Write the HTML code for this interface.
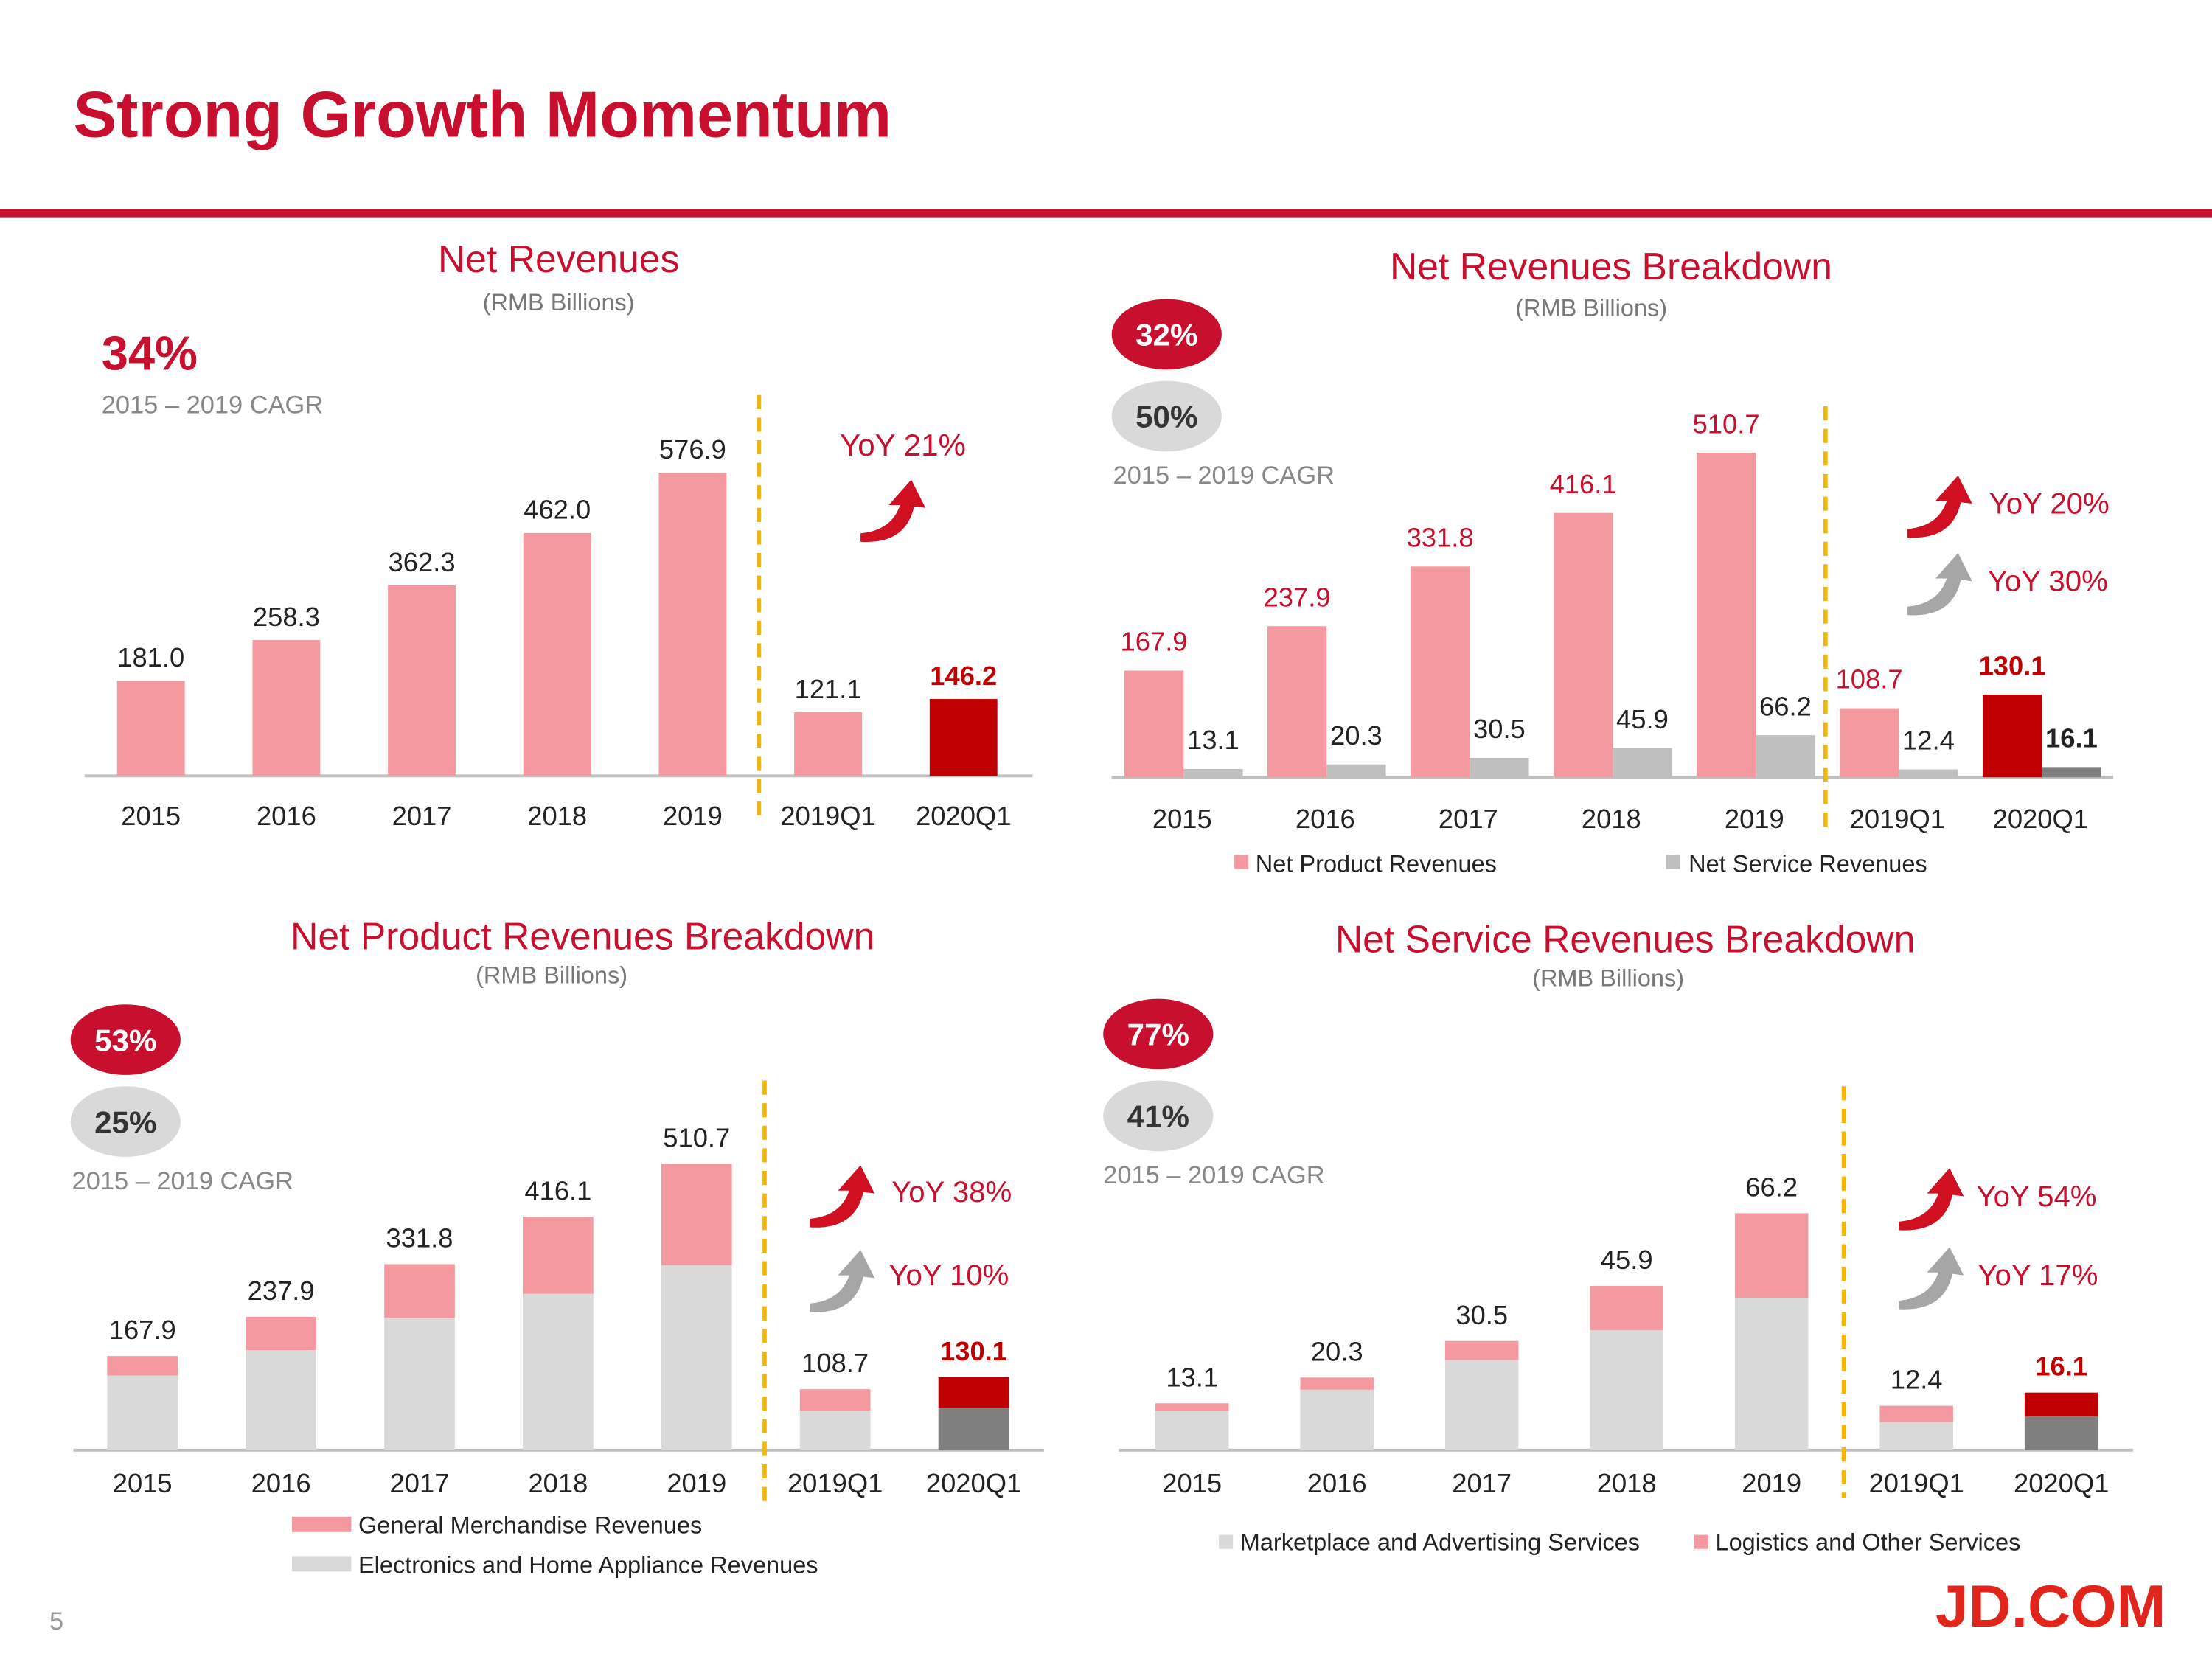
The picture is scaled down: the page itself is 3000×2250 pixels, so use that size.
<!DOCTYPE html>
<html><head><meta charset="utf-8"><style>
html,body{margin:0;padding:0;background:#fff}
svg{display:block}
text{font-family:"Liberation Sans",sans-serif}
</style></head><body>
<svg id="s" width="3000" height="2250" viewBox="0 0 1568 1176" xmlns="http://www.w3.org/2000/svg">
<rect width="1568" height="1176" fill="#fff"/>
<text x="52" y="97" font-size="46" font-weight="bold" fill="#c8102e">Strong Growth Momentum</text>
<rect x="0" y="148" width="1568" height="6" fill="#c8102e"/>
<text x="35" y="1155" font-size="18" fill="#999">5</text>
<text x="1372" y="1153" font-size="42" font-weight="bold" fill="#e1251b">JD.COM</text>
<g id="g"></g>
</svg>
<script>
// Chart 1: Net Revenues
const c1Cats=["2015","2016","2017","2018","2019","2019Q1","2020Q1"];
const c1Vals=[181.0,258.3,362.3,462.0,576.9,121.1,146.2];
const c1Labels=["181.0","258.3","362.3","462.0","576.9","121.1","146.2"];
// Chart 2: Breakdown
const c2Cats=["2015","2016","2017","2018","2019","2019Q1","2020Q1"];
const c2Product=[167.9,237.9,331.8,416.1,510.7,108.7,130.1];
const c2Service=[13.1,20.3,30.5,45.9,66.2,12.4,16.1];
// Chart 3: Product breakdown
const c3Cats=["2015","2016","2017","2018","2019","2019Q1","2020Q1"];
const c3Electronics=[133.3,178.6,236.5,279.0,329.6,70.4,75.5];
const c3Total=[167.9,237.9,331.8,416.1,510.7,108.7,130.1];
// Chart 4: Service breakdown
const c4Cats=["2015","2016","2017","2018","2019","2019Q1","2020Q1"];
const c4Marketplace=[11.0,16.9,25.2,33.5,42.6,7.9,9.5];
const c4Total=[13.1,20.3,30.5,45.9,66.2,12.4,16.1];

const NS="http://www.w3.org/2000/svg";
const G=document.getElementById('g');
function mk(tag,a,txt){const e=document.createElementNS(NS,tag);for(const k in a)e.setAttribute(k,a[k]);if(txt!==undefined)e.textContent=txt;G.appendChild(e);return e;}
function T(x,y,s,size,fill,name,anchor,bold){const e=mk('text',{x:x,y:y,'font-size':size,fill:fill,'text-anchor':anchor||'middle','font-weight':bold?'bold':'normal'},s);

return e;}
function R(x,y,w,h,fill,name){const e=mk('rect',{x:x,y:y,width:w,height:h,fill:fill});

return e;}
function pill(cx,cy,txt,bg,fg,name){const e=mk('ellipse',{cx:cx,cy:cy,rx:39,ry:25,fill:bg});


T(cx,cy+8,txt,22,fg,name+'-text','middle',true);}
function dash(x,y1,y2){const e=mk('line',{x1:x,y1:y1,x2:x,y2:y2,stroke:'#f2b705','stroke-width':3,'stroke-dasharray':'10 6'});

}
function axis(x1,x2,y){const e=mk('line',{x1:x1,x2:x2,y1:y,y2:y,stroke:'#bfbfbf','stroke-width':2});

}
function arrow(x,y,col,name){const e=mk('path',{d:`M${x} ${y+28} Q${x+22} ${y+26} ${x+28} ${y+8} L${x+20} ${y+8} L${x+36} ${y-10} L${x+46} ${y+10} L${x+38} ${y+9} Q${x+32} ${y+36} ${x} ${y+34} Z`,fill:col});

}

// ---- Chart 1
(function(){const base=550,k=215/576.9,x0=107,dx=96,w=48;
T(396,193,'Net Revenues',27,'#c8102e','c1-title');T(396,220,'(RMB Billions)',17,'#777','c1-subtitle');
T(72,262,'34%',34,'#c8102e','c1-cagr-value','start',true);T(72,293,'2015 – 2019 CAGR',18,'#888','c1-cagr-label','start');
axis(60,732,base);
c1Vals.forEach((v,i)=>{const x=x0+i*dx,h=v*k;const last=i===6;
R(x-w/2,base-h,w,h,last?'#c00000':'#f4999f','c1-bar-'+c1Cats[i]);
T(x,base-h-10,c1Labels[i],19,last?'#c00000':'#222','c1-value-'+c1Cats[i],'middle',last);
T(x,585,c1Cats[i],19,'#222','c1-xtick-'+c1Cats[i]);});
dash(538,280,580);T(640,323,'YoY 21%',22,'#c8102e','c1-yoy');arrow(610,350,'#d01020','c1-yoy-arrow');})();

// ---- Chart 2
(function(){const base=551,k=230/510.7,x0=818,dx=101.4,w=42;
T(1142,198,'Net Revenues Breakdown',27,'#c8102e','c2-title');T(1128,224,'(RMB Billions)',17,'#777','c2-subtitle');
pill(827,237,'32%','#c8102e','#fff','c2-cagr-product');pill(827,295,'50%','#d9d9d9','#333','c2-cagr-service');
T(789,343,'2015 – 2019 CAGR',18,'#888','c2-cagr-label','start');
axis(788,1498,base);
c2Cats.forEach((c,i)=>{const x=x0+i*dx,hp=c2Product[i]*k,hs=c2Service[i]*k;const last=i===6;
R(x-w/2,base-hp,w,hp,last?'#c00000':'#f4999f','c2-product-bar-'+c);
R(x-w/2+w,base-hs,w,hs,last?'#7f7f7f':'#bfbfbf','c2-service-bar-'+c);
T(x,base-hp-14,c2Product[i].toFixed(1),19,last?'#c00000':'#c8102e','c2-product-value-'+c,'middle',last);
T(x+w,base-hs-14,c2Service[i].toFixed(1),19,'#222','c2-service-value-'+c,'middle',last);
T(x+20,587,c,19,'#222','c2-xtick-'+c);});
dash(1294,288,590);
arrow(1352,347,'#d01020','c2-yoy-product-arrow');T(1410,364,'YoY 20%',21,'#c8102e','c2-yoy-product','start');
arrow(1352,402,'#a6a6a6','c2-yoy-service-arrow');T(1409,419,'YoY 30%',21,'#c8102e','c2-yoy-service','start');
R(875,606,10,10,'#f4999f','c2-legend-product-swatch');T(890,618,'Net Product Revenues',17,'#222','c2-legend-product','start');
R(1181,606,10,10,'#bfbfbf','c2-legend-service-swatch');T(1197,618,'Net Service Revenues',17,'#222','c2-legend-service','start');})();

// ---- Chart 3
(function(){const base=1028,k=203/510.7,x0=101,dx=98.2,w=50;
T(413,673,'Net Product Revenues Breakdown',27,'#c8102e','c3-title');T(391,697,'(RMB Billions)',17,'#777','c3-subtitle');
pill(89,737,'53%','#c8102e','#fff','c3-cagr-gm');pill(89,795,'25%','#d9d9d9','#333','c3-cagr-electronics');
T(51,843,'2015 – 2019 CAGR',18,'#888','c3-cagr-label','start');
axis(52,740,base);
c3Cats.forEach((c,i)=>{const x=x0+i*dx,he=c3Electronics[i]*k,ht=c3Total[i]*k;const last=i===6;
R(x-w/2,base-he,w,he,last?'#7f7f7f':'#d9d9d9','c3-electronics-bar-'+c);
R(x-w/2,base-ht,w,ht-he,last?'#c00000':'#f4999f','c3-gm-bar-'+c);
T(x,base-ht-12,c3Total[i].toFixed(1),19,last?'#c00000':'#222','c3-value-'+c,'middle',last);
T(x,1058,c,19,'#222','c3-xtick-'+c);});
dash(542,766,1065);
arrow(574,836,'#d01020','c3-yoy-gm-arrow');T(632,852,'YoY 38%',21,'#c8102e','c3-yoy-gm','start');
arrow(574,896,'#a6a6a6','c3-yoy-electronics-arrow');T(630,911,'YoY 10%',21,'#c8102e','c3-yoy-electronics','start');
R(207,1075,42,11,'#f4999f','c3-legend-gm-swatch');T(254,1087,'General Merchandise Revenues',17,'#222','c3-legend-gm','start');
R(207,1103,42,11,'#d9d9d9','c3-legend-electronics-swatch');T(254,1115,'Electronics and Home Appliance Revenues',17,'#222','c3-legend-electronics','start');})();

// ---- Chart 4
(function(){const base=1028,k=168/66.2,x0=845,dx=102.7,w=52;
T(1152,675,'Net Service Revenues Breakdown',27,'#c8102e','c4-title');T(1140,699,'(RMB Billions)',17,'#777','c4-subtitle');
pill(821,733,'77%','#c8102e','#fff','c4-cagr-logistics');pill(821,791,'41%','#d9d9d9','#333','c4-cagr-marketplace');
T(782,839,'2015 – 2019 CAGR',18,'#888','c4-cagr-label','start');
axis(793,1512,base);
c4Cats.forEach((c,i)=>{const x=x0+i*dx,hm=c4Marketplace[i]*k,ht=c4Total[i]*k;const last=i===6;
R(x-w/2,base-hm,w,hm,last?'#7f7f7f':'#d9d9d9','c4-marketplace-bar-'+c);
R(x-w/2,base-ht,w,ht-hm,last?'#c00000':'#f4999f','c4-logistics-bar-'+c);
T(x,base-ht-12,c4Total[i].toFixed(1),19,last?'#c00000':'#222','c4-value-'+c,'middle',last);
T(x,1058,c,19,'#222','c4-xtick-'+c);});
dash(1307,770,1062);
arrow(1346,838,'#d01020','c4-yoy-logistics-arrow');T(1401,855,'YoY 54%',21,'#c8102e','c4-yoy-logistics','start');
arrow(1346,894,'#a6a6a6','c4-yoy-marketplace-arrow');T(1402,911,'YoY 17%',21,'#c8102e','c4-yoy-marketplace','start');
R(864,1088,10,10,'#d9d9d9','c4-legend-marketplace-swatch');T(879,1099,'Marketplace and Advertising Services',17,'#222','c4-legend-marketplace','start');
R(1201,1088,10,10,'#f4999f','c4-legend-logistics-swatch');T(1216,1099,'Logistics and Other Services',17,'#222','c4-legend-logistics','start');})();
</script>
</body></html>
